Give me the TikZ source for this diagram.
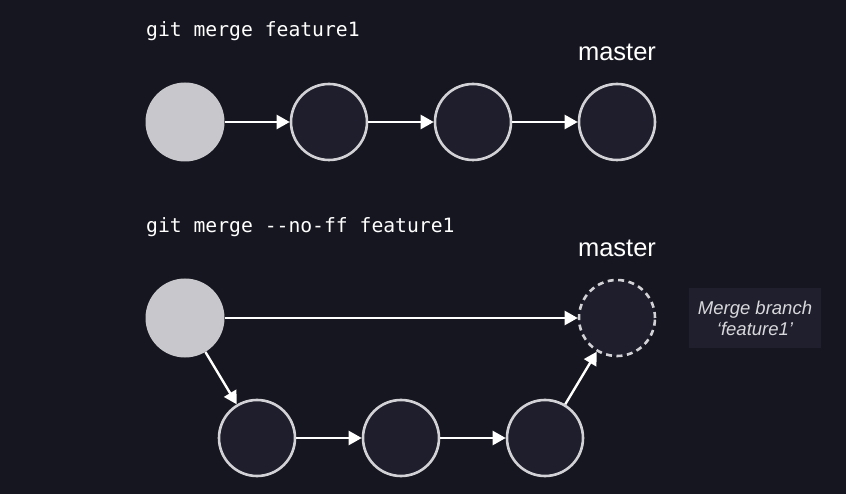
\documentclass[tikz,border=0pt]{standalone}
\usepackage{fontspec}
\setmainfont{Liberation Sans}
\setmonofont{DejaVu Sans Mono}
\usetikzlibrary{arrows.meta}
\definecolor{bg}{HTML}{161620}
\definecolor{cfill}{HTML}{1E1E2C}
\definecolor{cline}{HTML}{D2D2D6}
\definecolor{solid}{HTML}{C8C8CC}
\definecolor{boxfill}{HTML}{1F1F2D}
\definecolor{notetext}{HTML}{D8D8DC}
\tikzset{
  commit/.style={circle, minimum size=76pt, inner sep=0pt, fill=cfill, draw=cline, line width=2.6pt},
  basecommit/.style={circle, minimum size=79pt, inner sep=0pt, fill=solid, draw=none},
  mergecommit/.style={commit, dash pattern=on 6pt off 4.5pt},
  link/.style={draw=white, line width=2.4pt, -{Triangle[length=13pt,width=14pt]}, shorten >=0pt},
  cmd/.style={anchor=west, inner sep=0pt, text=white, font=\ttfamily\fontsize{19.7}{22}\selectfont},
  branch/.style={inner sep=0pt, text=white, font=\fontsize{25.5}{28}\selectfont},
  note/.style={fill=boxfill, text=notetext, align=center, minimum width=132pt, minimum height=60pt, inner sep=0pt, font=\itshape\fontsize{18.5}{21}\selectfont}
}
\begin{document}
\begin{tikzpicture}[x=1pt,y=-1pt]
\fill[bg] (0,0) rectangle (846,494);
\useasboundingbox (0,0) rectangle (846,494);
% top
\node[cmd] (cmd1) at (146,31.5) {git merge feature1};
\node[basecommit] (a0) at (185,122) {};
\node[commit] (a1) at (329,122) {};
\node[commit] (a2) at (473,122) {};
\node[commit] (a3) at (617,122) {};
\node[branch] (m1) at (617,52) {master};
\draw[link] (a0) -- (a1);
\draw[link] (a1) -- (a2);
\draw[link] (a2) -- (a3);
% bottom
\node[cmd] (cmd2) at (146,227.5) {git merge --no-ff feature1};
\node[basecommit] (b0) at (185,318) {};
\node[mergecommit] (bm) at (617,318) {};
\node[branch] (m2) at (617,248) {master};
\node[commit] (b1) at (257,438) {};
\node[commit] (b2) at (401,438) {};
\node[commit] (b3) at (545,438) {};
\node[note] (msg) at (755,318) {Merge branch\\‘feature1’};
\draw[link] (b0) -- (bm);
\draw[link] (b0) -- (b1);
\draw[link] (b1) -- (b2);
\draw[link] (b2) -- (b3);
\draw[link] (b3) -- (bm);
\end{tikzpicture}
\end{document}
